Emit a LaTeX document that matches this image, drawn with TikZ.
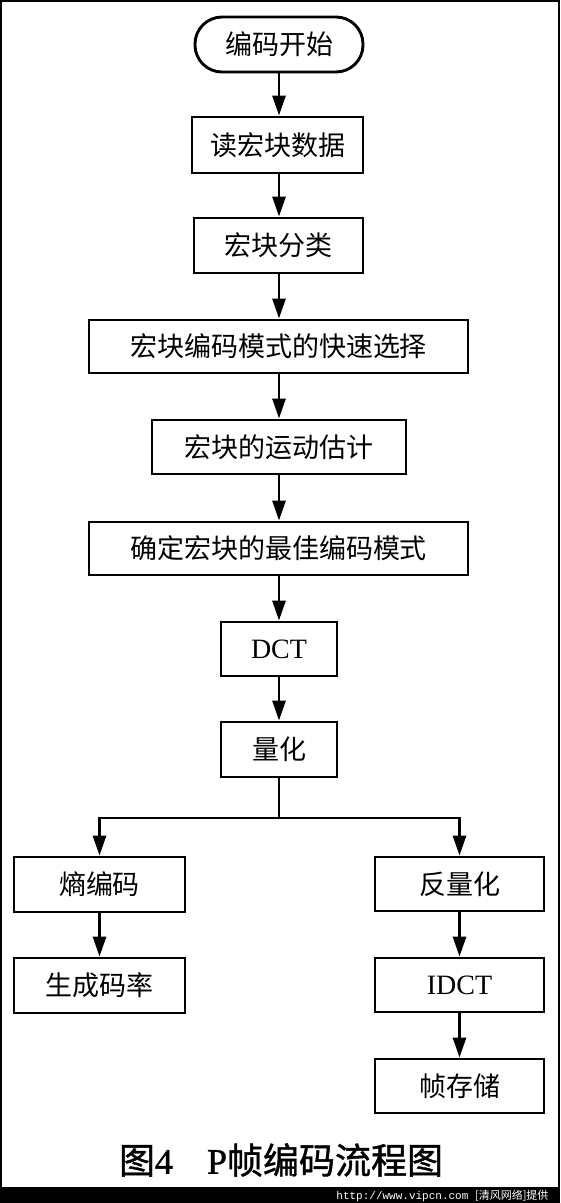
\documentclass[tikz,border=0pt]{standalone}
\usepackage{fontspec}
\usetikzlibrary{arrows.meta}
\newfontfamily\cjk{Noto Sans CJK SC}
\newfontfamily\cjkb[FakeBold=1.2]{Noto Sans CJK SC}
\newfontfamily\ser{Liberation Serif}
\newfontfamily\serb[FakeBold=1.2]{Liberation Serif}
\newfontfamily\wmono{Liberation Mono}
\tikzset{
  blk/.style={draw=black, line width=2.9pt, fill=white, inner sep=0pt, font=\fontsize{27}{30}\selectfont\cjk},
  term/.style={blk, rounded corners=27pt},
  conn/.style={line width=2.9pt, draw=black},
  arr/.style={conn, -{Triangle[length=20pt,width=13pt]}},
  lat/.style={font=\fontsize{28}{30}\selectfont\ser}
}
\begin{document}
\begin{tikzpicture}[x=1pt,y=-1pt]
\useasboundingbox (0,0) rectangle (560,1203);
\fill[white] (0,0) rectangle (560,1203);
\draw[line width=2pt] (1,1) rectangle (559,1188);
\fill[black] (0,1187) rectangle (560,1203);
\node[white, font=\fontsize{11}{12}\selectfont, anchor=east] (wm) at (552,1195.5) {\wmono http://www.vipcn.com \cjk[清风网络]提供};

\node[term, minimum width=168pt, minimum height=55pt] (s) at (279,44.5) {编码开始};
\node[blk, minimum width=171pt, minimum height=56pt] (n1) at (277.5,145) {读宏块数据};
\node[blk, minimum width=169pt, minimum height=55pt] (n2) at (278.5,245.5) {宏块分类};
\node[blk, minimum width=379pt, minimum height=53pt] (n3) at (278.5,346.5) {宏块编码模式的快速选择};
\node[blk, minimum width=254pt, minimum height=54pt] (n4) at (279,447) {宏块的运动估计};
\node[blk, minimum width=379pt, minimum height=53pt] (n5) at (278.5,548.5) {确定宏块的最佳编码模式};
\node[blk, lat, minimum width=116pt, minimum height=54pt] (dct) at (279,649) {DCT};
\node[blk, minimum width=116pt, minimum height=55pt] (q) at (279,749.5) {量化};
\coordinate (br) at (279,818);
\node[blk, minimum width=171pt, minimum height=55pt] (ent) at (99.5,884.5) {熵编码};
\node[blk, minimum width=171pt, minimum height=55pt] (rate) at (99.5,985.5) {生成码率};
\node[blk, minimum width=169pt, minimum height=54pt] (iq) at (459.5,884) {反量化};
\node[blk, lat, minimum width=169pt, minimum height=54pt] (idct) at (459.5,985) {IDCT};
\node[blk, minimum width=169pt, minimum height=54pt] (fs) at (459.5,1086) {帧存储};

\draw[arr] (s.south -| 279,0) -- (n1.north -| 279,0);
\draw[arr] (n1.south -| 279,0) -- (n2.north -| 279,0);
\draw[arr] (n2.south -| 279,0) -- (n3.north -| 279,0);
\draw[arr] (n3.south -| 279,0) -- (n4.north -| 279,0);
\draw[arr] (n4.south -| 279,0) -- (n5.north -| 279,0);
\draw[arr] (n5.south -| 279,0) -- (dct.north);
\draw[arr] (dct) -- (q);
\draw[conn] (q.south) -- (br);
\draw[arr] (br) -| (ent.north);
\draw[arr] (br) -| (iq.north);
\draw[arr] (ent) -- (rate);
\draw[arr] (iq) -- (idct);
\draw[arr] (idct) -- (fs);

\node[font=\fontsize{36}{38}\selectfont] (cap) at (281,1160) {\cjkb 图\serb 4\hspace{34pt}P\cjkb 帧编码流程图};
\end{tikzpicture}
\end{document}
